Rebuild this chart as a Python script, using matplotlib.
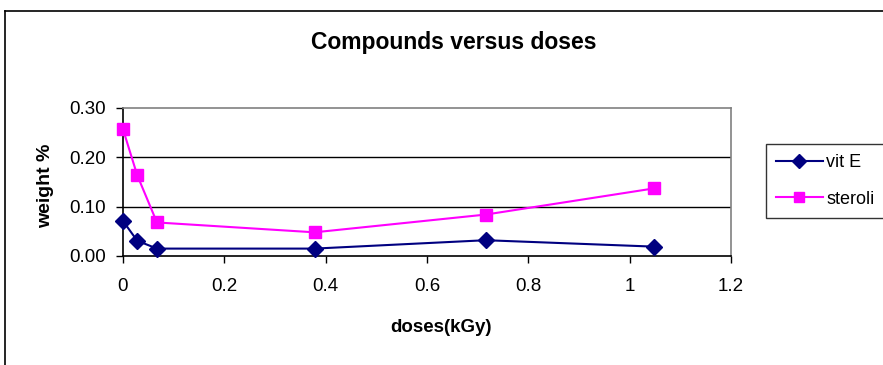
import matplotlib
matplotlib.use("Agg")
import matplotlib.pyplot as plt
from matplotlib.lines import Line2D

plt.rcParams['font.family'] = ['Liberation Sans', 'DejaVu Sans']

# doses (kGy) and measured weight %
doses = [0.0, 0.028, 0.067, 0.378, 0.716, 1.048]
vit_e = [0.071, 0.031, 0.015, 0.015, 0.032, 0.019]
steroli = [0.257, 0.164, 0.068, 0.048, 0.084, 0.137]

x_ticks = [0, 0.2, 0.4, 0.6, 0.8, 1.0, 1.2]
x_tick_labels = ["0", "0.2", "0.4", "0.6", "0.8", "1", "1.2"]
y_ticks = [0.0, 0.1, 0.2, 0.3]
y_tick_labels = ["0.00", "0.10", "0.20", "0.30"]

fig = plt.figure(figsize=(8.83, 3.65), dpi=100)
ax = fig.add_axes([123 / 883, 1 - 256 / 365, (731 - 123) / 883, (256 - 108) / 365])

ax.plot(doses, vit_e, color="#000080", marker="D", markersize=8, lw=1.5,
        label="vit E", clip_on=False, zorder=3)
ax.plot(doses, steroli, color="#FF00FF", marker="s", markersize=8.5, lw=1.5,
        label="steroli", clip_on=False, zorder=3)

ax.set_xlim(0, 1.2)
ax.set_ylim(0, 0.3)
ax.set_xticks(x_ticks)
ax.set_xticklabels(x_tick_labels)
ax.set_yticks(y_ticks)
ax.set_yticklabels(y_tick_labels)
ax.tick_params(direction="out", length=5, width=1, labelsize=13.5, color="black")
ax.tick_params(axis="x", pad=11)
ax.tick_params(axis="y", pad=7)

for y in y_ticks[1:3]:
    ax.axhline(y, color="black", lw=1, zorder=1)

ax.spines["left"].set_color("black")
ax.spines["bottom"].set_color("black")
ax.spines["top"].set_color("#808080")
ax.spines["right"].set_color("#808080")
for s in ax.spines.values():
    s.set_linewidth(1.2)

fig.text(454 / 883, 1 - 42 / 365, "Compounds versus doses", ha="center", va="center",
         fontsize=16.5, fontweight="bold")
fig.text(441 / 883, 1 - 328 / 365, "doses(kGy)", ha="center", va="center",
         fontsize=13.5, fontweight="bold")
fig.text(46 / 883, 1 - 186 / 365, "weight %", ha="center", va="center",
         fontsize=14, fontweight="bold", rotation=90)

leg = ax.legend(loc="upper left", bbox_to_anchor=(766 / 883, 1 - 144 / 365),
                bbox_transform=fig.transFigure, frameon=True, fancybox=False,
                fontsize=13, handlelength=2.6, handletextpad=0.2,
                borderpad=0.55, labelspacing=1.1, borderaxespad=0,
                markerscale=0.85)
leg.get_frame().set_edgecolor("black")
leg.get_frame().set_linewidth(1)

# outer chart border (left and top edges)
fig.add_artist(Line2D([5 / 883, 5 / 883], [0, 1 - 11 / 365], transform=fig.transFigure,
                      color="black", lw=1.2))
fig.add_artist(Line2D([5 / 883, 1], [1 - 11 / 365, 1 - 11 / 365], transform=fig.transFigure,
                      color="black", lw=1.2))

fig.savefig("out.png", dpi=100)
